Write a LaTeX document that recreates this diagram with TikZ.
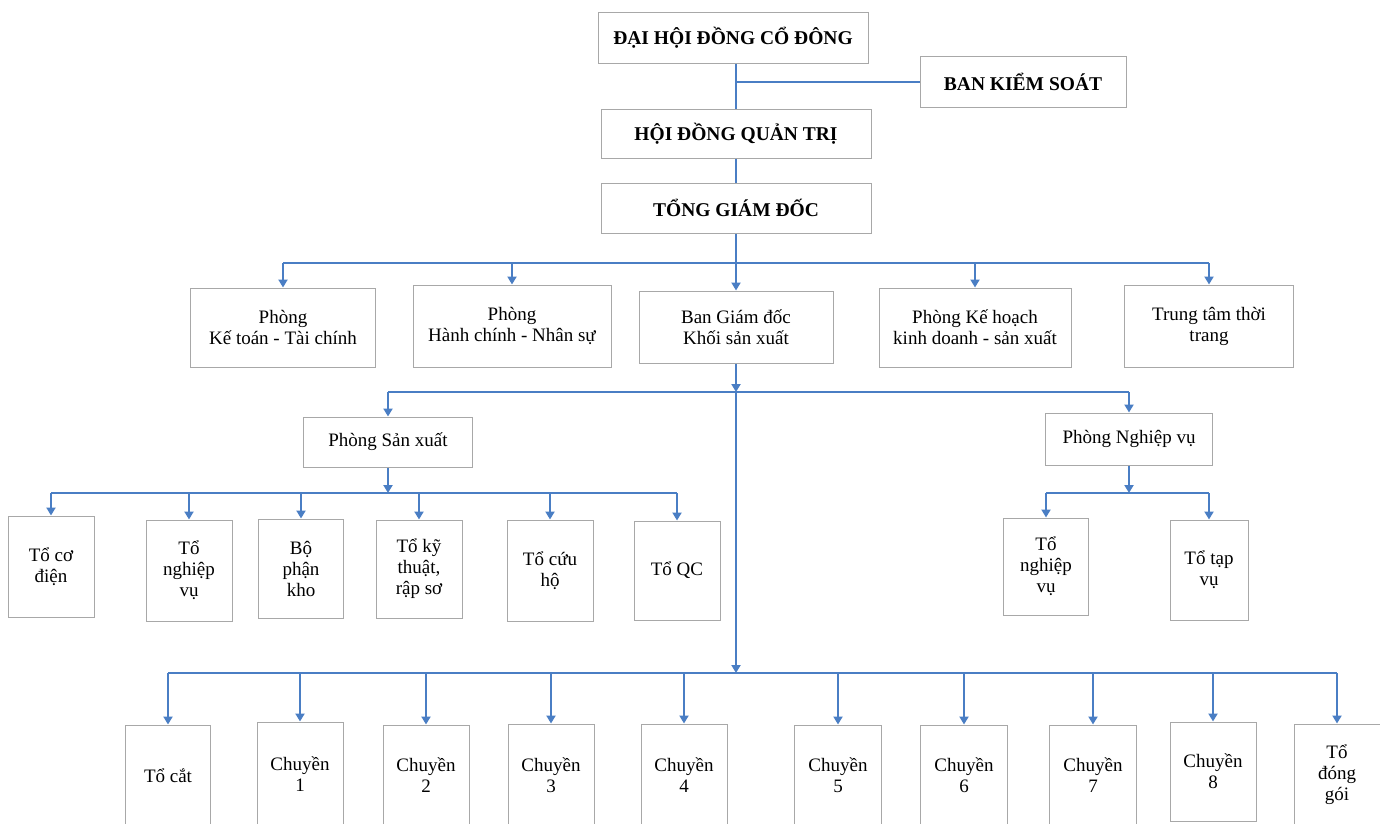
\documentclass[tikz,border=0pt]{standalone}
\usepackage{fontspec}
\setmainfont{Liberation Serif}
\usetikzlibrary{arrows.meta}
\definecolor{lineblue}{HTML}{4A7EC4}
\definecolor{boxgray}{HTML}{A8A8A8}
\begin{document}
\begin{tikzpicture}[x=1pt,y=-1pt,
  box/.style={draw=boxgray, line width=1pt, align=center, inner sep=1pt, text=black,
    font=\fontsize{19}{21}\selectfont},
  tbox/.style={box, font=\fontsize{19.5}{22}\selectfont\bfseries},
  conn/.style={draw=lineblue, line width=2pt},
  arr/.style={conn, -{Triangle[width=9pt,length=8pt]}}]
\useasboundingbox (0,0) rectangle (1380,823);
\fill[white] (0,0) rectangle (1380,823);
% top levels
\node[tbox, minimum width=270, minimum height=51] (dh) at (733,37.5) {ĐẠI HỘI ĐỒNG CỔ ĐÔNG};
\node[tbox, minimum width=206, minimum height=51] (bks) at (1023,81.5) {BAN KIỂM SOÁT};
\node[tbox, minimum width=270, minimum height=49] (hd) at (736,133.5) {HỘI ĐỒNG QUẢN TRỊ};
\node[tbox, minimum width=270, minimum height=50] (tgd) at (736,208) {TỔNG GIÁM ĐỐC};
% row 2
\node[box, minimum width=185, minimum height=79] (kt) at (283,327.5) {Phòng\\Kế toán - Tài chính};
\node[box, minimum width=198, minimum height=82] (hc) at (512,326) {Phòng\\Hành chính - Nhân sự};
\node[box, minimum width=194, minimum height=72] (bgd) at (736,327) {Ban Giám đốc\\Khối sản xuất};
\node[box, minimum width=192, minimum height=79] (kh) at (975,327.5) {Phòng Kế hoạch\\kinh doanh - sản xuất};
\node[box, minimum width=169, minimum height=82] (tt) at (1209,326) {Trung tâm thời\\trang};
% departments
\node[box, minimum width=169, minimum height=50] (psx) at (388,442) {Phòng Sản xuất};
\node[box, minimum width=167, minimum height=52] (pnv) at (1129,439) {Phòng Nghiệp vụ};
% row 3 left
\node[box, minimum width=86, minimum height=101] (tcd) at (51,566.5) {Tổ cơ\\điện};
\node[box, minimum width=86, minimum height=101] (tnv) at (189,570.5) {Tổ\\nghiệp\\vụ};
\node[box, minimum width=85, minimum height=99] (bpk) at (301,568.5) {Bộ\\phận\\kho};
\node[box, minimum width=86, minimum height=98] (tkt) at (419,569) {Tổ kỹ\\thuật,\\rập sơ};
\node[box, minimum width=86, minimum height=101] (tch) at (550,570.5) {Tổ cứu\\hộ};
\node[box, minimum width=86, minimum height=99] (tqc) at (677,570.5) {Tổ QC};
% row 3 right
\node[box, minimum width=85, minimum height=97] (tnvb) at (1046,566.5) {Tổ\\nghiệp\\vụ};
\node[box, minimum width=78, minimum height=100] (ttv) at (1209,570) {Tổ tạp\\vụ};
% bottom row
\node[box, minimum width=85, minimum height=101] (tc) at (168,775.5) {Tổ cắt};
\node[box, minimum width=86, minimum height=104] (ca) at (300,774) {Chuyền\\1};
\node[box, minimum width=86, minimum height=101] (cb) at (426,775.5) {Chuyền\\2};
\node[box, minimum width=86, minimum height=102] (cc) at (551,775) {Chuyền\\3};
\node[box, minimum width=86, minimum height=102] (cd) at (684,775) {Chuyền\\4};
\node[box, minimum width=87, minimum height=101] (ce) at (838,775.5) {Chuyền\\5};
\node[box, minimum width=87, minimum height=101] (cf) at (964,775.5) {Chuyền\\6};
\node[box, minimum width=87, minimum height=101] (cg) at (1093,775.5) {Chuyền\\7};
\node[box, minimum width=86, minimum height=99] (ch) at (1213,771.5) {Chuyền\\8};
\node[box, minimum width=86, minimum height=102] (tdg) at (1337,775) {Tổ\\đóng\\gói};
% bar levels
\coordinate (b1) at (0,263);
\coordinate (b2) at (0,392);
\coordinate (b3) at (0,493);
\coordinate (b4) at (0,673);
% connectors top
\draw[conn] (hd.north |- dh.south) -- (hd.north);
\draw[conn] (hd.north |- bks.west) -- (bks.west);
\draw[conn] (hd.south) -- (tgd.north);
\draw[conn] (tgd.south) -- (tgd.south |- b1);
\draw[conn] (kt.north |- b1) -- (tt.north |- b1);
\foreach \n in {kt,hc,kh,tt} \draw[arr] (\n.north |- b1) -- (\n.north);
\draw[arr] (tgd.south |- b1) -- (bgd.north);
% production block
\draw[arr] (bgd.south) -- (bgd.south |- b2);
\draw[conn] (psx.north |- b2) -- (pnv.north |- b2);
\draw[arr] (psx.north |- b2) -- (psx.north);
\draw[arr] (pnv.north |- b2) -- (pnv.north);
\draw[arr] (bgd.south |- b2) -- (bgd.south |- b4);
% Phong san xuat
\draw[arr] (psx.south) -- (psx.south |- b3);
\draw[conn] (tcd.north |- b3) -- (tqc.north |- b3);
\foreach \n in {tcd,tnv,bpk,tkt,tch,tqc} \draw[arr] (\n.north |- b3) -- (\n.north);
% Phong nghiep vu
\draw[arr] (pnv.south) -- (pnv.south |- b3);
\draw[conn] (tnvb.north |- b3) -- (ttv.north |- b3);
\foreach \n in {tnvb,ttv} \draw[arr] (\n.north |- b3) -- (\n.north);
% bottom row
\draw[conn] (tc.north |- b4) -- (tdg.north |- b4);
\foreach \n in {tc,ca,cb,cc,cd,ce,cf,cg,ch,tdg} \draw[arr] (\n.north |- b4) -- (\n.north);
\end{tikzpicture}
\end{document}
